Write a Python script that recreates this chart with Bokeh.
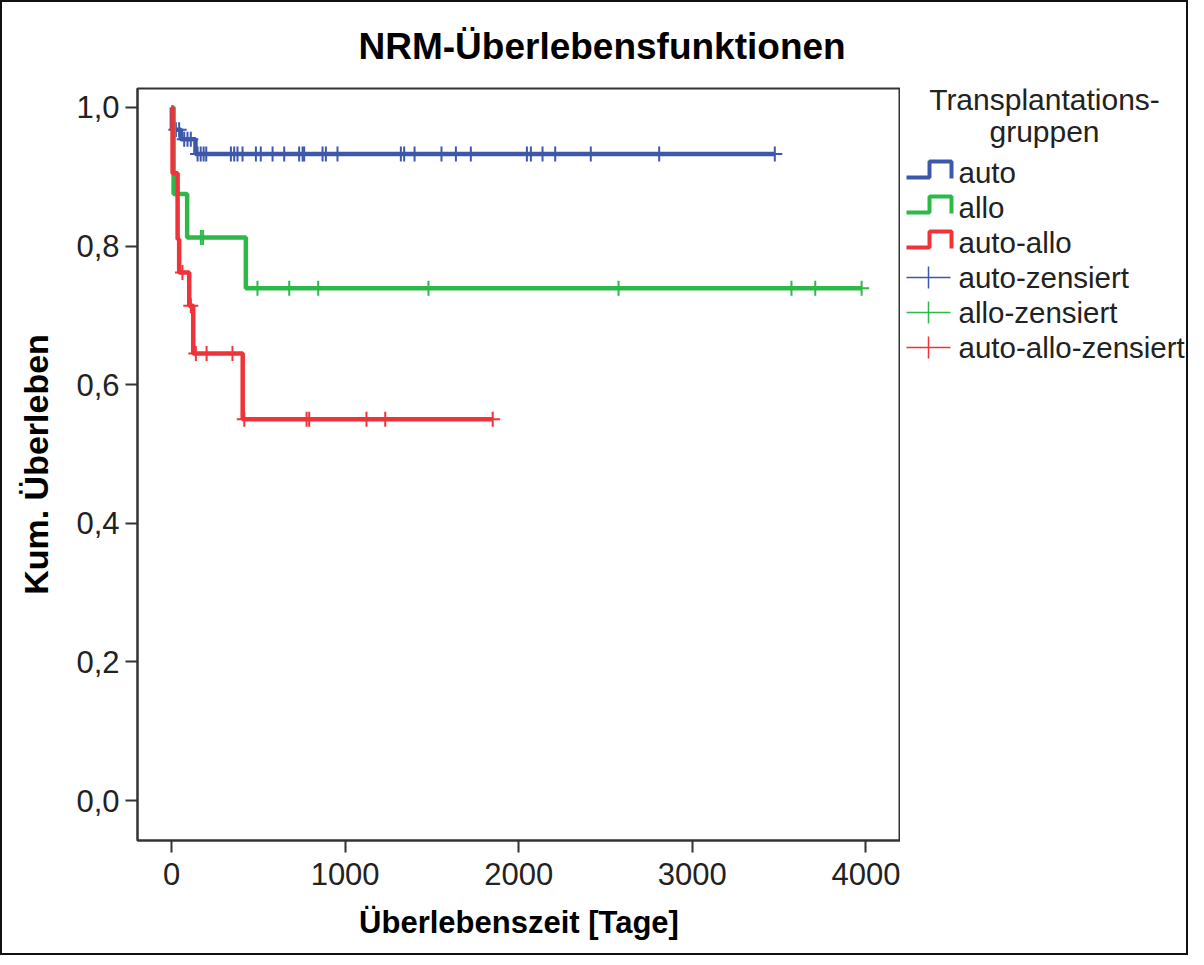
from bokeh.plotting import figure
from bokeh.models import Range1d, FixedTicker, CustomJSTickFormatter
from bokeh.layouts import row
from bokeh.embed import file_html
from bokeh.resources import INLINE
from bokeh.core.properties import value

# ---------------- data ----------------
title_text = "NRM-Überlebensfunktionen"
x_label = "Überlebenszeit [Tage]"
y_label = "Kum. Überleben"
legend_title = ["Transplantations-", "gruppen"]
group_names = ["auto", "allo", "auto-allo"]
censor_names = ["auto-zensiert", "allo-zensiert", "auto-allo-zensiert"]
x_ticks = [0, 1000, 2000, 3000, 4000]
y_ticks = [0.0, 0.2, 0.4, 0.6, 0.8, 1.0]

auto_times = [0, 2, 54, 138, 3475]
auto_surv = [1.0, 0.968, 0.954, 0.933, 0.933]
auto_censored = [25, 44, 73, 92, 111, 150, 168, 185, 200, 342, 361, 380,
                 409, 486, 514, 582, 649, 735, 755, 764, 870, 889, 956, 1321,
                 1340, 1400, 1555, 1638, 1724, 2047, 2070, 2137, 2210, 2415,
                 2809, 3475]

allo_times = [0, 12, 90, 428, 3975]
allo_surv = [1.0, 0.875, 0.8125, 0.739, 0.739]
allo_censored = [169, 182, 495, 678, 845, 1480, 2575, 3571, 3708, 3975]

autoallo_times = [0, 6, 35, 44, 102, 125, 410, 1850]
autoallo_surv = [1.0, 0.905, 0.81, 0.762, 0.714, 0.645, 0.55, 0.55]
autoallo_censored = [63, 111, 140, 202, 351, 419, 778, 793, 1123, 1231, 1850]

colors = ["#3D58AB", "#2EB848", "#EF3338"]

series = [
    (auto_times, auto_surv, auto_censored),
    (allo_times, allo_surv, allo_censored),
    (autoallo_times, autoallo_surv, autoallo_censored),
]


def surv_at(t, times, surv):
    s = surv[0]
    for ti, si in zip(times, surv):
        if ti <= t:
            s = si
    return s


def step_path(times, surv):
    xs, ys = [times[0]], [surv[0]]
    for i in range(1, len(times)):
        xs += [times[i], times[i]]
        ys += [surv[i - 1], surv[i]]
    return xs, ys


FONT = "Liberation Sans"

# ---------------- main plot ----------------
p = figure(width=898, height=951,
           x_range=Range1d(-196, 4199), y_range=Range1d(-0.0577, 1.0274),
           output_backend="svg", toolbar_location=None,
           min_border_left=135, min_border_right=0,
           min_border_top=86, min_border_bottom=113)

p.title.text = title_text
p.title.align = "left"
p.title.offset = 221
p.title.standoff = 43
p.title.text_font = FONT
p.title.text_font_size = "37px"
p.title.text_font_style = "bold"
p.title.text_color = "#000000"

p.grid.visible = False
p.outline_line_color = "#333333"
p.outline_line_width = 2
p.outline_line_alpha = 1.0
p.background_fill_color = "white"
p.border_fill_color = "white"

p.xaxis.ticker = FixedTicker(ticks=x_ticks)
p.yaxis.ticker = FixedTicker(ticks=y_ticks)
p.yaxis.formatter = CustomJSTickFormatter(code="return tick.toFixed(1).replace('.', ',');")

for ax in (p.xaxis[0], p.yaxis[0]):
    ax.axis_line_color = "#333333"
    ax.axis_line_width = 2
    ax.major_tick_line_color = "#333333"
    ax.major_tick_line_width = 2
    ax.major_tick_out = 12
    ax.major_tick_in = 0
    ax.minor_tick_line_color = None
    ax.major_label_text_font = FONT
    ax.major_label_text_font_size = "31px"
    ax.major_label_text_color = "#222222"
    ax.axis_label_text_font = FONT
    ax.axis_label_text_font_style = "bold"
    ax.axis_label_text_color = "#000000"

p.xaxis.axis_label = x_label
p.xaxis.axis_label_text_font_size = "31px"
p.xaxis.major_label_standoff = 10
p.xaxis.axis_label_standoff = 17
p.yaxis.axis_label = y_label
p.yaxis.axis_label_text_font_size = "34px"
p.yaxis.major_label_standoff = 6
p.yaxis.axis_label_standoff = 18

for (times, surv, cens), col in zip(series, colors):
    sx, sy = step_path(times, surv)
    p.line(x=sx, y=sy, line_color=col, line_width=4.5)
    cy = [surv_at(t, times, surv) for t in cens]
    p.scatter(x=cens, y=cy, marker="cross", size=15, line_color=col, line_width=2)

# ---------------- legend panel ----------------
# frame of this panel is aligned with the main frame; y in page pixels
LW, LH = 286, 951
leg = figure(width=LW, height=LH, x_range=Range1d(0, LW), y_range=Range1d(848, 96),
             output_backend="svg", toolbar_location=None,
             x_axis_type=None, y_axis_type=None, min_border=0)
leg.grid.visible = False
leg.outline_line_color = None
leg.background_fill_color = "white"
leg.border_fill_color = "white"

leg.text(x=[144, 144], y=[107, 139], text=legend_title,
         text_font=value(FONT), text_font_size="30px",
         text_align="center", text_baseline="middle", text_color="#222222")

labels = group_names + censor_names
y0, dy = 180, 35
ys = [y0 + i * dy for i in range(len(labels))]
leg.text(x=[58] * len(labels), y=ys, text=labels,
         text_font=value(FONT), text_font_size="29.5px",
         text_align="left", text_baseline="middle", text_color="#222222")

for i, col in enumerate(colors):
    yc = ys[i]
    leg.line(x=[6, 29, 29, 51, 51], y=[yc + 5, yc + 5, yc - 11, yc - 11, yc + 6],
             line_color=col, line_width=4)
    yc2 = ys[i + 3]
    leg.line(x=[6, 50], y=[yc2, yc2], line_color=col, line_width=1.5)
    leg.line(x=[28, 28], y=[yc2 - 11, yc2 + 11], line_color=col, line_width=1.5)

layout = row(p, leg, styles={"border": "2px solid #111111"})

open("out.html", "w").write(file_html(layout, INLINE))
